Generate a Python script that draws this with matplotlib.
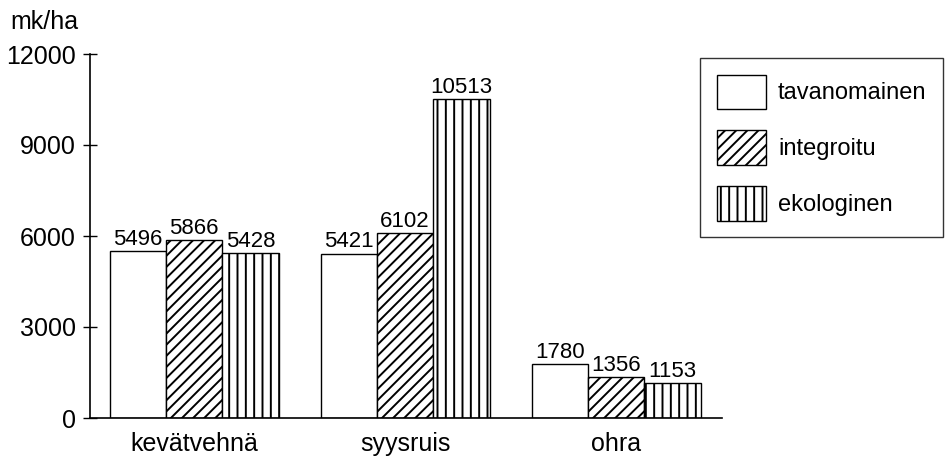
import matplotlib
matplotlib.use("Agg")
import matplotlib.pyplot as plt
import numpy as np

# Chart data
crops = ["kevätvehnä", "syysruis", "ohra"]
series_names = ["tavanomainen", "integroitu", "ekologinen"]
tavanomainen = [5496, 5421, 1780]
integroitu = [5866, 6102, 1356]
ekologinen = [5428, 10513, 1153]
y_ticks = [0, 3000, 6000, 9000, 12000]

plt.rcParams["font.family"] = ["Liberation Sans", "DejaVu Sans"]
plt.rcParams["hatch.linewidth"] = 1.4

width_px, height_px, dpi = 948, 470, 100
fig = plt.figure(figsize=(width_px / dpi, height_px / dpi), dpi=dpi)
ax = fig.add_axes([90 / 948, 52 / 470, 632 / 948, 364 / 470])

x = np.arange(len(crops))
bar_w = 0.267
hatches = ["", "///", "||"]
series = [tavanomainen, integroitu, ekologinen]

for i, (name, vals) in enumerate(zip(series_names, series)):
  bars = ax.bar(x + (i - 1) * bar_w, vals, bar_w, facecolor="white",
                edgecolor="black", linewidth=1.0, hatch=hatches[i], label=name)
  for b, v in zip(bars, vals):
    ax.text(b.get_x() + b.get_width() / 2, v + 40, str(v),
            ha="center", va="bottom", fontsize=16)

ax.set_xlim(-0.493, 2.502)
ax.set_ylim(0, 12000)
ax.set_yticks(y_ticks)
ax.set_yticklabels([str(t) for t in y_ticks], fontsize=18)
ax.set_xticks(x)
ax.set_xticklabels(crops, fontsize=18)
ax.tick_params(axis="x", length=0, pad=10)
ax.tick_params(axis="y", direction="inout", length=10, width=1.0, pad=5)

for side in ["top", "right"]:
  ax.spines[side].set_visible(False)
ax.spines["left"].set_linewidth(1.2)
ax.spines["bottom"].set_linewidth(1.2)

fig.text(10 / 948, 1 - 10 / 470, "mk/ha", ha="left", va="top", fontsize=18)

leg = fig.legend(loc="upper left", bbox_to_anchor=(700 / 948, 1 - 58 / 470),
                 borderaxespad=0, fontsize=17, frameon=True, fancybox=False,
                 handlelength=2.1, handleheight=1.85, labelspacing=0.92,
                 handletextpad=0.5, borderpad=0.7)
leg.get_frame().set_edgecolor("black")
leg.get_frame().set_linewidth(1.0)

fig.savefig("out.png", dpi=dpi)
